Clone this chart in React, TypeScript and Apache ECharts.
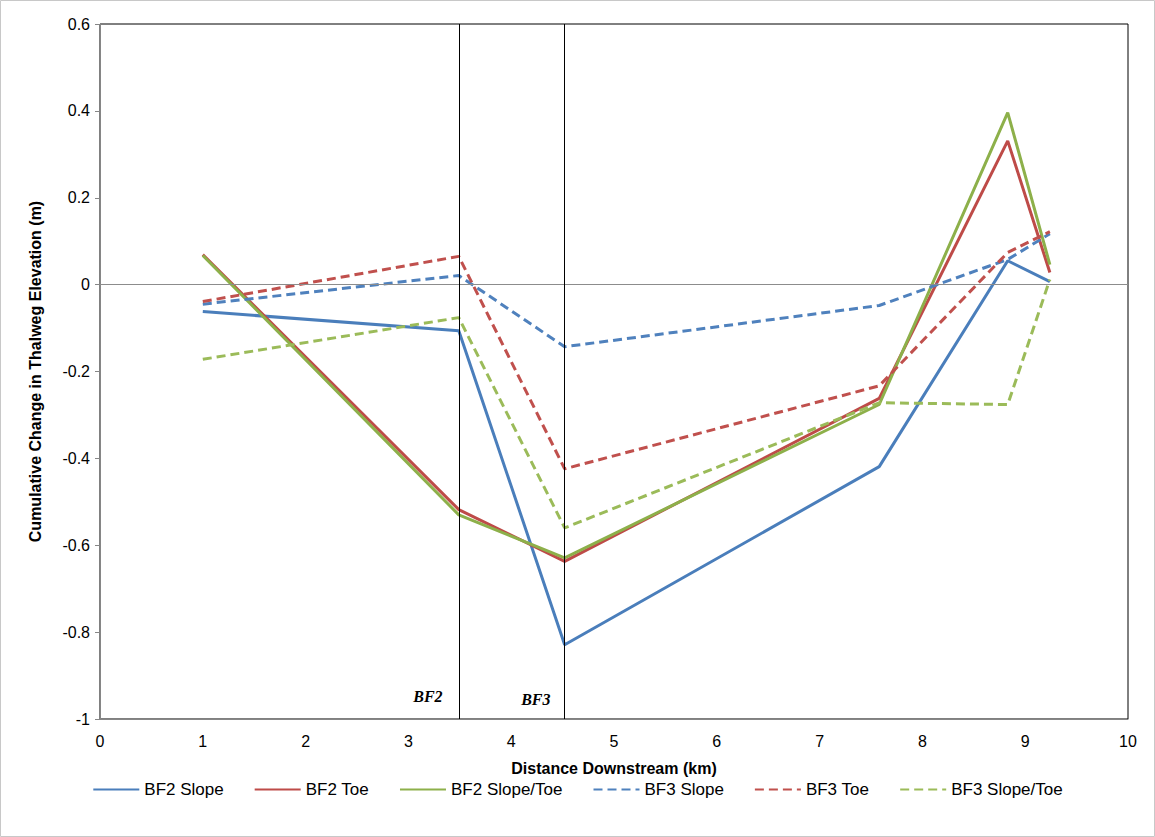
import React, { useEffect, useRef } from "react";
import * as echarts from "echarts";

// Distance downstream of each survey cross-section (km)
const distanceKm = [1.0, 3.49, 4.52, 7.58, 8.83, 9.24];

// Cumulative change in thalweg elevation (m) per scenario
const bf2Slope = [-0.062, -0.106, -0.829, -0.419, 0.055, 0.007];
const bf2Toe = [0.069, -0.518, -0.637, -0.262, 0.331, 0.028];
const bf2SlopeToe = [0.067, -0.53, -0.629, -0.276, 0.396, 0.046];
const bf3Slope = [-0.045, 0.021, -0.143, -0.048, 0.058, 0.117];
const bf3Toe = [-0.039, 0.065, -0.424, -0.233, 0.074, 0.122];
const bf3SlopeToe = [-0.172, -0.076, -0.56, -0.272, -0.276, 0.012];

// Structure locations (km) and their labels
const structureKm = [3.49, 4.52];
const structureNames = ["BF2", "BF3"];
const structureLabelPos = [
  [3.19, -0.948],
  [4.24, -0.955],
];

const seriesNames = ["BF2 Slope", "BF2 Toe", "BF2 Slope/Toe", "BF3 Slope", "BF3 Toe", "BF3 Slope/Toe"];
const seriesValues = [bf2Slope, bf2Toe, bf2SlopeToe, bf3Slope, bf3Toe, bf3SlopeToe];
const seriesColors = ["#4A7EBB", "#BE4B48", "#8DB04A", "#4F81BD", "#C0504D", "#9BBB59"];
const seriesDashed = [false, false, false, true, true, true];

export default function App() {
  const ref = useRef<HTMLDivElement>(null);

  useEffect(() => {
    if (!ref.current) return;
    const chart = echarts.init(ref.current, undefined, { renderer: "svg" });
    const font = "'Liberation Sans', Arial, sans-serif";

    const lines = seriesNames.map((name, i) => ({
      name,
      type: "line",
      symbol: "none",
      data: distanceKm.map((x, j) => [x, seriesValues[i][j]]),
      lineStyle: {
        color: seriesColors[i],
        width: 3,
        type: seriesDashed[i] ? [9, 5] : "solid",
      },
      itemStyle: { color: seriesColors[i] },
      z: 3,
    }));

    const refSeries = {
      name: "structures",
      type: "line",
      data: [],
      silent: true,
      markLine: {
        silent: true,
        symbol: "none",
        label: { show: false },
        animation: false,
        data: [
          { yAxis: 0, lineStyle: { color: "#8c8c8c", width: 1, type: "solid" } },
          ...structureKm.map((x) => ({
            xAxis: x,
            lineStyle: { color: "#000", width: 1, type: "solid" },
          })),
        ],
      },
      markPoint: {
        silent: true,
        symbol: "circle",
        symbolSize: 0,
        label: {
          show: true,
          formatter: "{b}",
          fontFamily: "'Liberation Serif', 'Times New Roman', serif",
          fontStyle: "italic",
          fontWeight: "bold",
          fontSize: 16,
          color: "#000",
        },
        data: structureNames.map((n, i) => ({ name: n, coord: structureLabelPos[i] })),
      },
      z: 2,
    };

    chart.setOption({
      animation: false,
      backgroundColor: "#fff",
      textStyle: { fontFamily: font },
      grid: {
        left: 100,
        right: 27,
        top: 24,
        bottom: 118,
        show: true,
        borderColor: "#000",
        borderWidth: 1,
      },
      graphic: [
        {
          type: "rect",
          shape: { x: 0.5, y: 0.5, width: 1154, height: 836 },
          style: { fill: "none", stroke: "#c8c8c8", lineWidth: 1 },
          silent: true,
        },
      ],
      legend: {
        bottom: 34,
        left: "center",
        itemWidth: 46,
        itemHeight: 12,
        itemGap: 30,
        data: seriesNames,
        itemStyle: { opacity: 0 },
        textStyle: { fontFamily: font, fontSize: 17, color: "#000" },
      },
      xAxis: {
        type: "value",
        min: 0,
        max: 10,
        interval: 1,
        name: "Distance Downstream (km)",
        nameLocation: "middle",
        nameGap: 41,
        nameTextStyle: { fontFamily: font, fontSize: 16, fontWeight: "bold", color: "#000" },
        axisLine: { show: true, onZero: false, lineStyle: { color: "#868686", width: 1 } },
        axisTick: { show: false },
        axisLabel: { fontFamily: font, fontSize: 16, color: "#000", margin: 14 },
        splitLine: { show: false },
      },
      yAxis: {
        type: "value",
        min: -1,
        max: 0.6,
        interval: 0.2,
        name: "Cumulative Change in Thalweg Elevation (m)",
        nameLocation: "middle",
        nameGap: 57,
        nameTextStyle: { fontFamily: font, fontSize: 16, fontWeight: "bold", color: "#000" },
        axisLine: { show: true, onZero: false, lineStyle: { color: "#868686", width: 1 } },
        axisTick: { show: true, inside: false, length: 5, lineStyle: { color: "#868686" } },
        axisLabel: {
          fontFamily: font,
          fontSize: 16,
          color: "#000",
          margin: 10,
          formatter: (v: number) => String(Math.round(v * 10) / 10),
        },
        splitLine: { show: false },
      },
      series: [refSeries, ...lines],
    });

    return () => chart.dispose();
  }, []);

  return (
    <div
      ref={ref}
      style={{ position: "absolute", left: 0, top: 0, width: 1155, height: 837 }}
    />
  );
}
